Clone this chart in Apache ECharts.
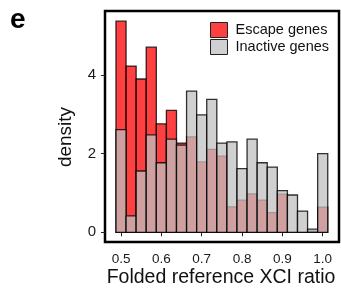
<!DOCTYPE html>
<html>
<head>
<meta charset="utf-8">
<script src="https://cdn.jsdelivr.net/npm/echarts@6/dist/echarts.min.js"></script>
<style>html,body{margin:0;padding:0;background:#fff}#c{width:341px;height:288px}</style>
</head>
<body>
<div id="c"></div>
<script>
// Bin centres (folded reference XCI ratio), bin width 0.025
const binCenters = [0.5, 0.525, 0.55, 0.575, 0.6, 0.625, 0.65, 0.675, 0.7, 0.725, 0.75,
                    0.775, 0.8, 0.825, 0.85, 0.875, 0.9, 0.925, 0.95, 0.975, 1.0];
const binWidth = 0.025;
const escapeDensity = [5.37, 4.23, 3.90, 4.71, 2.76, 3.10, 2.27, 2.43, 1.79, 2.11, 1.94,
                       0.65, 0.82, 0.98, 0.82, 0.50, 0.97, 0, 0, 0.03, 0.64];
const inactiveDensity = [2.61, 0.42, 1.56, 2.48, 1.77, 2.37, 2.22, 3.59, 2.99, 3.38, 2.27,
                         2.30, 1.62, 2.37, 1.77, 1.66, 1.06, 0.95, 0.54, 0.08, 2.00];
const xTicks = [0.5, 0.6, 0.7, 0.8, 0.9, 1.0];
const yTicks = [0, 2, 4];
const seriesNames = ['Escape genes', 'Inactive genes'];

const FONT = '"Liberation Sans", Arial, Helvetica, sans-serif';
const chart = echarts.init(document.getElementById('c'), null, {renderer: 'canvas'});

function makeRender(fill) {
  return function (params, api) {
    const c = api.value(0), v = api.value(1);
    const p0 = api.coord([c - binWidth / 2, v]);
    const p1 = api.coord([c + binWidth / 2, 0]);
    return {
      type: 'rect',
      shape: {x: p0[0], y: p0[1], width: p1[0] - p0[0], height: p1[1] - p0[1]},
      style: {fill: fill, stroke: 'rgba(0,0,0,0.8)', lineWidth: 1.3}
    };
  };
}

const redFill = 'rgba(255,0,0,0.75)';
const grayFill = 'rgba(192,192,192,0.75)';

chart.setOption({
  animation: false,
  grid: {left: 105, right: 2, top: 11, bottom: 46, show: true, borderColor: '#000', borderWidth: 2.5, backgroundColor: 'transparent'},
  xAxis: {
    type: 'value', min: 0.4603, max: 1.0404,
    axisLine: {show: false}, splitLine: {show: false},
    axisTick: {show: true, length: 4, customValues: xTicks, lineStyle: {color: '#222', width: 1}},
    axisLabel: {customValues: xTicks, margin: 10, fontSize: 13.5, color: '#1a1a1a', fontFamily: FONT,
                formatter: v => v.toFixed(1)}
  },
  yAxis: {
    type: 'value', min: -0.246, max: 5.63,
    axisLine: {show: false}, splitLine: {show: false},
    axisTick: {show: true, length: 4, customValues: yTicks, lineStyle: {color: '#222', width: 1}},
    axisLabel: {customValues: yTicks, margin: 9, fontSize: 15, color: '#1a1a1a', fontFamily: FONT}
  },
  legend: {
    orient: 'vertical', left: 210, top: 22, itemWidth: 17, itemHeight: 15, itemGap: 1, padding: 0,
    icon: 'rect', data: seriesNames,
    itemStyle: {borderColor: '#222', borderWidth: 1},
    textStyle: {fontSize: 14.5, color: '#111', fontFamily: FONT, padding: [0, 0, 0, 3], lineHeight: 15}
  },
  graphic: [
    {type: 'text', x: 10, y: 20, style: {text: 'e', font: 'bold 28px ' + FONT, fill: '#000', verticalAlign: 'middle'}},
    {type: 'text', x: 66, y: 137, rotation: Math.PI / 2,
     style: {text: 'density', font: '19px ' + FONT, fill: '#111', align: 'center', verticalAlign: 'middle'}},
    {type: 'text', x: 221, y: 277.5,
     style: {text: 'Folded reference XCI ratio', font: '19.5px ' + FONT, fill: '#111', align: 'center', verticalAlign: 'middle'}}
  ],
  series: [
    {name: seriesNames[0], type: 'custom', itemStyle: {color: redFill},
     encode: {x: 0, y: 1}, renderItem: makeRender(redFill),
     data: binCenters.map((c, i) => [c, escapeDensity[i]])},
    {name: seriesNames[1], type: 'custom', itemStyle: {color: grayFill},
     encode: {x: 0, y: 1}, renderItem: makeRender(grayFill),
     data: binCenters.map((c, i) => [c, inactiveDensity[i]])}
  ]
});
</script>
</body>
</html>
